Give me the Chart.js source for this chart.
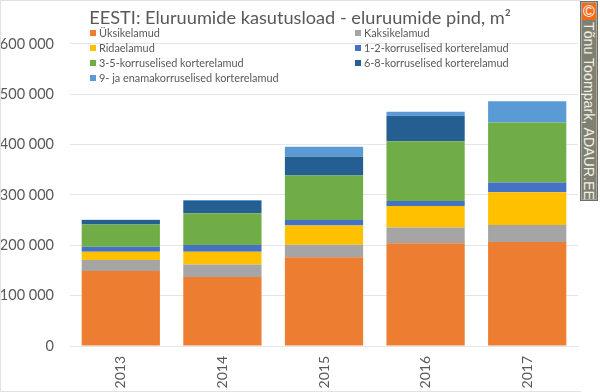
<!DOCTYPE html>
<html>
<head>
<meta charset="utf-8">
<title>EESTI: Eluruumide kasutusload</title>
<script src="https://cdn.jsdelivr.net/npm/chart.js@4"></script>
<style>
  html, body { margin: 0; padding: 0; background: #fff; }
  #wrap { position: relative; width: 600px; height: 392px; overflow: hidden; }
  #frame { position: absolute; left: 0; top: 0; width: 580px; height: 390px; border: 1px solid #e2e2e2; border-right: 0; }
  #credit { position: absolute; left: 581px; top: 2px; width: 16px; height: 198px; background: #808070; border: 1px solid #a8a8a0; box-sizing: border-box; outline: 1px solid #6f6f66; }
  #credit .mark { height: 17px; background: #f26a1b; color: #fff; font: 16px "Liberation Sans"; line-height: 17px; text-align: center; }
  #credit .name { writing-mode: vertical-rl; color: #f0f0e8; font: 14.2px "Liberation Sans"; line-height: 14px; height: 179px; white-space: nowrap; padding-top: 2px; box-sizing: border-box; }
</style>
</head>
<body>
<div id="wrap">
  <canvas id="stackChart" width="600" height="392"></canvas>
  <div id="frame"></div>
  <div id="credit"><div class="mark">©</div><div class="name">Tõnu Toompark, ADAUR.EE</div></div>
</div>
<script>
const years = ['2013', '2014', '2015', '2016', '2017'];
const yTicks = [0, 100000, 200000, 300000, 400000, 500000, 600000];

const yksikelamud = [149000, 137000, 176000, 204000, 206500];
const kaksikelamud = [22000, 25000, 25000, 31500, 34000];
const ridaelamud = [16000, 25000, 38500, 42500, 65000];
const korrus12 = [10000, 13500, 10500, 10000, 19000];
const korrus35 = [44500, 63000, 88500, 118500, 119500];
const korrus68 = [8500, 24500, 37500, 50500, 0];
const korrus9 = [500, 2000, 19500, 8000, 42000];

const seriesNames = ['Üksikelamud', 'Kaksikelamud', 'Ridaelamud', '1-2-korruselised korterelamud',
  '3-5-korruselised korterelamud', '6-8-korruselised korterelamud', '9- ja enamakorruselised korterelamud'];
const seriesValues = [yksikelamud, kaksikelamud, ridaelamud, korrus12, korrus35, korrus68, korrus9];
const seriesColors = ['#ED7D31', '#A5A5A5', '#FFC000', '#4472C4', '#70AD47', '#255E91', '#5B9BD5'];

const textColor = '#595959';
const gridColor = '#e6e6e6';

// two column legend, Chart.js own legend can't line the columns up
const columnLegend = {
  id: 'columnLegend',
  afterLayout(chart) {
    // title is centred on the whole picture, not on the padded box
    chart.titleBlock.left = 0;
    chart.titleBlock.right = 600;
  },
  afterDraw(chart) {
    const c = chart.ctx;
    c.save();
    c.font = '10.9px Lato';
    c.textBaseline = 'middle';
    c.textAlign = 'left';
    chart.data.datasets.forEach((ds, i) => {
      const x = i % 2 === 0 ? 90 : 355;
      const y = 33 + Math.floor(i / 2) * 15;
      c.fillStyle = ds.backgroundColor;
      c.fillRect(x, y - 3, 6, 6);
      c.fillStyle = textColor;
      c.fillText(ds.label, x + 9, y);
    });
    c.restore();
  }
};

new Chart(document.getElementById('stackChart').getContext('2d'), {
  type: 'bar',
  data: {
    labels: years,
    datasets: seriesNames.map((name, i) => ({
      label: name,
      data: seriesValues[i],
      backgroundColor: seriesColors[i],
      borderWidth: 0,
      categoryPercentage: 1,
      barPercentage: 0.77
    }))
  },
  options: {
    responsive: false,
    animation: false,
    layout: { padding: { right: 22, top: 0, left: 0, bottom: 0 } },
    plugins: {
      legend: { display: false },
      tooltip: { enabled: false },
      title: {
        display: true,
        text: 'EESTI: Eluruumide kasutusload - eluruumide pind, m²',
        color: textColor,
        font: { family: 'Lato', size: 18.2, weight: 'normal' },
        padding: { top: 7, bottom: 15 }
      }
    },
    scales: {
      x: {
        stacked: true,
        grid: { display: false, drawTicks: false },
        border: { color: gridColor },
        ticks: { color: textColor, font: { family: 'Lato', size: 14 }, minRotation: 90, maxRotation: 90, padding: 10 },
        afterFit(scale) { scale.height = 46; }
      },
      y: {
        stacked: true,
        min: 0,
        max: 600000,
        afterBuildTicks(scale) { scale.ticks = yTicks.map(v => ({ value: v })); },
        grid: { color: gridColor, drawTicks: false },
        border: { display: false },
        ticks: {
          color: textColor,
          font: { family: 'Lato', size: 14.5 },
          padding: 16,
          callback: v => String(v).replace(/\B(?=(\d{3})+$)/g, ' ')
        },
        afterFit(scale) { scale.width = 70; }
      }
    }
  },
  plugins: [columnLegend]
});
</script>
</body>
</html>
